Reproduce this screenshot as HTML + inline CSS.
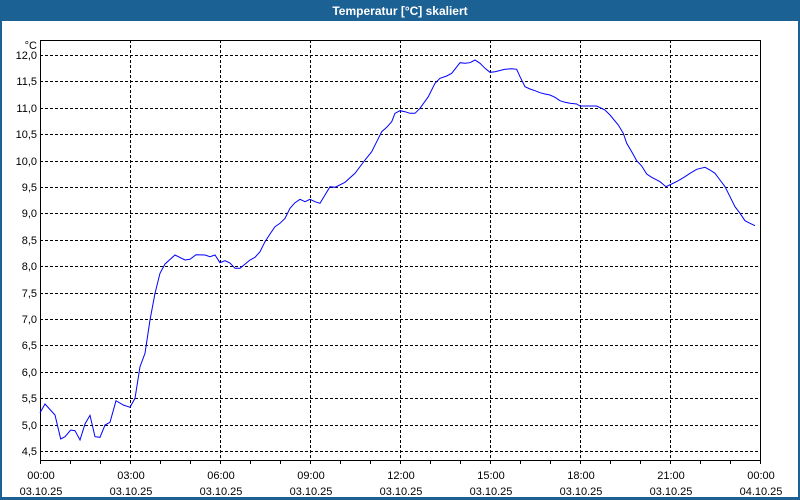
<!DOCTYPE html>
<html><head><meta charset="utf-8"><style>
html,body{margin:0;padding:0;background:#fff;}
svg{display:block;}
text{font-family:"Liberation Sans",sans-serif;font-size:11px;fill:#000;}
</style></head><body>
<svg width="800" height="500" viewBox="0 0 800 500" xmlns="http://www.w3.org/2000/svg">
<rect x="0" y="0" width="800" height="500" fill="#fff"/>
<rect x="0" y="0" width="800" height="21" fill="#1c6194"/>
<rect x="0" y="0" width="2" height="500" fill="#1c6194"/>
<rect x="798" y="0" width="2" height="500" fill="#1c6194"/>
<rect x="0" y="497" width="800" height="3" fill="#1c6194"/>
<text x="400" y="15" text-anchor="middle" style="font-weight:bold;font-size:12px;fill:#fff">Temperatur [°C] skaliert</text>
<g stroke="#000" stroke-width="1" stroke-dasharray="3,2" shape-rendering="crispEdges" fill="none">
<path d="M40 55.5H760M40 81.5H760M40 108.5H760M40 134.5H760M40 161.5H760M40 187.5H760M40 213.5H760M40 240.5H760M40 266.5H760M40 293.5H760M40 319.5H760M40 345.5H760M40 372.5H760M40 398.5H760M40 425.5H760M40 451.5H760"/>
<path d="M130.5 40V460M220.5 40V460M310.5 40V460M400.5 40V460M490.5 40V460M580.5 40V460M670.5 40V460"/>
</g>
<g stroke="#000" stroke-width="1" shape-rendering="crispEdges" fill="none">
<rect x="40.5" y="40.5" width="720" height="420"/>
<path d="M40.5 460V464M70.5 460V464M100.5 460V464M130.5 460V464M160.5 460V464M190.5 460V464M220.5 460V464M250.5 460V464M280.5 460V464M310.5 460V464M340.5 460V464M370.5 460V464M400.5 460V464M430.5 460V464M460.5 460V464M490.5 460V464M520.5 460V464M550.5 460V464M580.5 460V464M610.5 460V464M640.5 460V464M670.5 460V464M700.5 460V464M730.5 460V464M760.5 460V464"/>
</g>
<polyline fill="none" stroke="#0000ff" stroke-width="1" points="40,412.7 45,404 55,415 60.7,439 65,436.7 70.7,430 75,430.7 80,440 85,424 90,415.3 95,436.7 100,437.3 105,425 110,422.3 116,400.7 123.3,405 130,407.3 135,398.3 140,366.7 145,353.3 150,320 155,293.3 160,273.3 165,264 175,255 185,260 190,259.3 196,254.7 205,255 210,256.7 215,255 220,262.7 225,260.7 230,263 235,268.3 240,268.3 250,260 255,257.3 260,251.7 265,241.7 270,234 275,226.7 280,223.3 285,218.3 290,208.3 295,202.7 300,199.3 305,201.7 310,199.3 315,201.7 320,203.3 325,195 330,186.7 335,187.3 345,182.3 355,173.3 365,160 371.7,151.7 376.7,141.7 381.7,131.7 386.7,127.3 391.7,121.7 395,113.3 400,110.7 405,111.7 410,113.3 415,113.3 420,108.3 428.3,96.7 435,83.3 440,78.3 446.7,76 451.7,73.3 460,62.7 465,63.3 470,62.7 475,60 480,63.3 485,68.3 490,72.3 495,71.7 505,69.3 511.7,68.7 516.7,69.3 520,76.7 525,86.7 530,89 535,90.7 540,92.7 545,94 550,95 555,97.3 560,100.7 565,102.3 570,103.3 576.7,104 580,106 596.7,106 605,110 610,115 618.3,125 623.3,133.3 626.7,143.3 631.7,151.7 636.7,160.7 641.7,166 646.7,174 651.7,177.3 660,181.7 666,186.7 671.7,184 678.3,180.7 685,176.7 690,173.3 696.7,169.3 705,167.3 710,170 715,173.3 720,180 725,186.7 730,196.7 735,206.7 740,213.3 745,220.7 750,223.3 755,225.7"/>
<g text-anchor="end">
<text x="37" y="49">°C</text>
<text x="37" y="59">12,0</text>
<text x="37" y="85">11,5</text>
<text x="37" y="112">11,0</text>
<text x="37" y="138">10,5</text>
<text x="37" y="165">10,0</text>
<text x="37" y="191">9,5</text>
<text x="37" y="217">9,0</text>
<text x="37" y="244">8,5</text>
<text x="37" y="270">8,0</text>
<text x="37" y="297">7,5</text>
<text x="37" y="323">7,0</text>
<text x="37" y="349">6,5</text>
<text x="37" y="376">6,0</text>
<text x="37" y="402">5,5</text>
<text x="37" y="429">5,0</text>
<text x="37" y="455">4,5</text>
</g>
<g text-anchor="middle">
<text x="41" y="479">00:00</text><text x="41" y="495">03.10.25</text>
<text x="131" y="479">03:00</text><text x="131" y="495">03.10.25</text>
<text x="221" y="479">06:00</text><text x="221" y="495">03.10.25</text>
<text x="311" y="479">09:00</text><text x="311" y="495">03.10.25</text>
<text x="401" y="479">12:00</text><text x="401" y="495">03.10.25</text>
<text x="491" y="479">15:00</text><text x="491" y="495">03.10.25</text>
<text x="581" y="479">18:00</text><text x="581" y="495">03.10.25</text>
<text x="671" y="479">21:00</text><text x="671" y="495">03.10.25</text>
<text x="761" y="479">00:00</text><text x="761" y="495">04.10.25</text>
</g>
</svg>
</body></html>
